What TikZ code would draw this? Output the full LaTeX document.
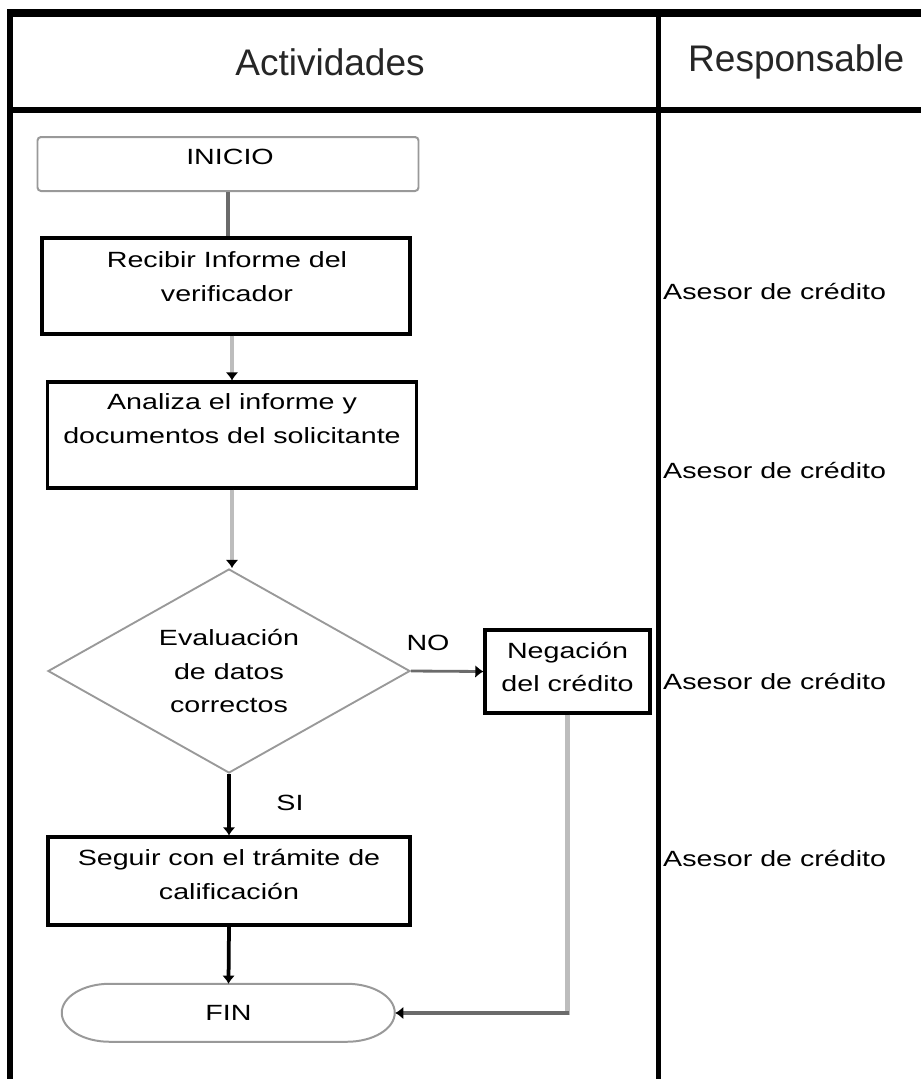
\documentclass[tikz,border=0pt]{standalone}
\usepackage{fontspec}
\setmainfont{Liberation Sans}
\newfontfamily\bodyfont[FakeStretch=1.3]{Liberation Sans}
\usetikzlibrary{shapes.geometric,arrows.meta}

\newlength{\upx}
\setlength{\upx}{0.03cm}
\definecolor{linegray}{gray}{0.42}
\definecolor{palegray}{gray}{0.74}
\definecolor{framegray}{gray}{0.6}

\begin{document}
\begin{tikzpicture}[x=0.03cm, y=-0.03cm, line cap=butt,
    txt/.style={font=\bodyfont\fontsize{18.8}{29}\selectfont, align=center, inner sep=0},
    head/.style={font=\fontsize{31.6}{36}\selectfont, text=black!85, inner sep=0},
    box/.style={draw, line width=2.6pt, inner sep=0},
    decision/.style={draw=framegray, line width=1.6pt, shape=diamond, aspect=1.77,
        inner sep=0, minimum width=362*\upx, minimum height=204*\upx, txt},
    tip/.style={-{Latex[color=black, length=7pt, width=11pt]}}]

        \useasboundingbox (0,0) rectangle (921,1079);

        % Table frame.
        \draw[line width=6pt] (8,13) -- (921,13);
        \draw[line width=5pt] (8,110) -- (921,110);
        \draw[line width=4.3pt] (10,9) -- (10,1079);
        \draw[line width=4.3pt] (658.5,9) -- (658.5,1079);

        % Column headers.
        \node[head] (actividades) at (330,62) {Actividades};
        \node[head, anchor=west] (responsable) at (688,62) {Responsable};

        % Boxes of the flow.
        \node[draw=framegray, line width=1.7pt, rounded corners=3pt, inner sep=0,
            minimum width=381*\upx, minimum height=54*\upx] (inicio) at (228,164) {};
        \node[txt] (iniciotxt) at (230,157) {INICIO};

        \node[box, minimum width=368*\upx, minimum height=96*\upx] (recibir) at (226,286) {};
        \node[txt] (recibirtxt) at (227,277) {Recibir Informe del\\verificador};

        \node[box, minimum width=369*\upx, minimum height=106*\upx] (analiza) at (232,435) {};
        \node[txt] (analizatxt) at (232,419) {Analiza el informe y\\documentos del solicitante};

        \node[decision] (decision) at (229,671) {Evaluación\\de datos\\correctos};

        \node[box, minimum width=165*\upx, minimum height=83*\upx] (negacion) at (567.5,671.5) {};
        \node[txt] (negaciontxt) at (567.5,667) {Negación\\del crédito};

        \node[box, minimum width=362*\upx, minimum height=88*\upx] (seguir) at (229,881) {};
        \node[txt] (seguirtxt) at (229,874) {Seguir con el trámite de\\calificación};

        \node[txt, minimum width=333*\upx, minimum height=58*\upx] (fin) at (228.5,1013) {FIN};
        \draw[framegray, line width=1.7pt] (fin.north west) ++(48,0) -- ++(237,0)
            arc[start angle=-90, end angle=90, x radius=48, y radius=29] -- ++(-237,0)
            arc[start angle=90, end angle=270, x radius=48, y radius=29];

        % Branch labels.
        \node[txt] (no) at (428,643) {NO};
        \node[txt] (si) at (290,803) {SI};

        % Responsible for each step.
        \foreach \y in {291,470,681,858}
            \node[txt, anchor=west] (asesor\y) at (663,\y) {Asesor de crédito};

        % Connectors.
        \draw[linegray, line width=2.6pt] (inicio.south) -- (inicio.south |- recibir.north);
        \draw[palegray, line width=3.4pt, tip] (analiza.north |- recibir.south) -- (analiza.north);
        \draw[palegray, line width=3.4pt, tip] (analiza.south) -- (analiza.south |- decision.north);
        \draw[linegray, line width=2.4pt, tip] (decision.east) -- (negacion.west);
        \draw[line width=3.2pt, tip] (decision.south) -- (seguir.north);
        \draw[line width=3.2pt, tip] (seguir.south) -- (fin.north);
        \coordinate (bend) at (negacion.south |- fin.east);
        \draw[palegray, line width=3.8pt] (negacion.south) -- ([yshift=-1.5pt]bend);
        \draw[linegray, line width=2.8pt, tip] ([xshift=1.6pt]bend) -- (fin.east);
    \end{tikzpicture}
\end{document}
